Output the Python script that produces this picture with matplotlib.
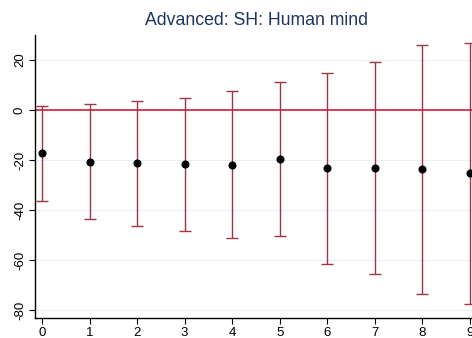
import numpy as np
import matplotlib
matplotlib.use("Agg")
import matplotlib.pyplot as plt

# ── data ────────────────────────────────────────────────────
lags = [0, 1, 2, 3, 4, 5, 6, 7, 8, 9]
coef = [-17.3, -20.7, -21.3, -21.7, -21.9, -19.5, -23.3, -23.0, -23.4, -25.3]
ci_hi = [1.6, 2.4, 3.7, 4.9, 7.6, 11.3, 14.7, 19.1, 26.1, 26.9]
ci_lo = [-36.3, -43.6, -46.4, -48.4, -51.2, -50.5, -61.6, -65.6, -73.6, -77.6]
yticks = [-80, -60, -40, -20, 0, 20]

plt.rcParams["font.family"] = ["Liberation Sans", "DejaVu Sans"]

fig = plt.figure(figsize=(4.72, 3.38), dpi=100)
ax = fig.add_axes([0.0742, 0.0592, 0.9258, 0.8372])

for y in yticks:
    ax.axhline(y, color="#e8f0f2", lw=0.8, zorder=0)
ax.axhline(0, color="#c8102e", lw=1.1, zorder=1)

coef = np.array(coef)
err = [coef - np.array(ci_lo), np.array(ci_hi) - coef]
ax.errorbar(lags, coef, yerr=err, fmt="none", ecolor="#a03444",
            elinewidth=1.0, capsize=4.3, capthick=1.0, zorder=2)
ax.plot(lags, coef, "o", color="black", markersize=4.8, zorder=3)

ax.set_xlim(-0.15, 9.05)
ax.set_ylim(-83.2, 30)
ax.set_xticks(lags)
ax.set_yticks(yticks)
ax.set_yticklabels([str(v) for v in yticks], rotation=90, va="center")
ax.tick_params(labelsize=9.5, length=4, width=0.8, pad=2.5)

for s in ["top", "right"]:
    ax.spines[s].set_visible(False)
ax.spines["left"].set_linewidth(1.0)
ax.spines["bottom"].set_linewidth(1.0)

fig.text(0.543, 0.94, "Advanced: SH: Human mind", ha="center", va="center",
         fontsize=12.7, color="#1e3560")

fig.savefig("out.png", dpi=100)
